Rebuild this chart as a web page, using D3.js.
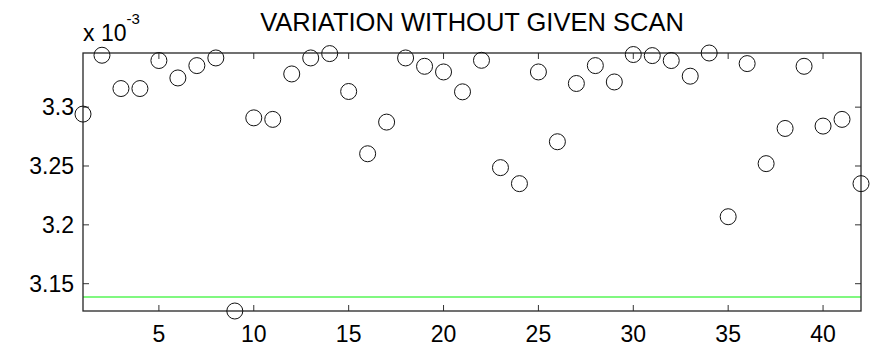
<!DOCTYPE html>
<html>
<head>
<meta charset="utf-8">
<script src="https://cdn.jsdelivr.net/npm/d3@7"></script>
<style>
  body { margin: 0; background: #fff; }
  text { font-family: "Liberation Sans", Arial, sans-serif; fill: #000; }
</style>
</head>
<body>
<script>
// scan index and value (x 10^-3)
var scans = d3.range(1, 43);
var values = [
  3.2941, 3.3441, 3.3158, 3.3158, 3.3396, 3.3248, 3.3353, 3.3418, 3.1268, 3.2909,
  3.2896, 3.3282, 3.3418, 3.3455, 3.3133, 3.2604, 3.2873, 3.3418, 3.3347, 3.3299,
  3.3130, 3.3398, 3.2486, 3.2350, 3.3299, 3.2706, 3.3201, 3.3353, 3.3214, 3.3447,
  3.3438, 3.3396, 3.3263, 3.3460, 3.2069, 3.3370, 3.2520, 3.2819, 3.3347, 3.2839,
  3.2896, 3.2350
];
var threshold = 3.1386;
var xTicks = [5, 10, 15, 20, 25, 30, 35, 40];
var yTicks = [3.15, 3.2, 3.25, 3.3];
var chartTitle = "VARIATION WITHOUT GIVEN SCAN";

window.onload = function(){

    var w = 875, h = 353;
    var pl = 83, pr = 861, pt = 53, pb = 311;

    var svg = d3.select("body").append("svg")
        .attr("width", w)
        .attr("height", h);

    var x = d3.scaleLinear()
        .domain([1, 42])
        .range([pl, pr]);

    var y = d3.scaleLinear()
        .domain(d3.extent(values))
        .range([pb, pt]);

    //threshold line
    svg.append("line")
        .attr("x1", pl).attr("x2", pr)
        .attr("y1", y(threshold)).attr("y2", y(threshold))
        .style("stroke", "#80f880")
        .style("stroke-width", 2);

    //ticks, inward on all four sides
    var tl = 6;
    var ticks = svg.append("g").style("stroke", "#333").style("stroke-width", 1);
    xTicks.forEach(function(t){
        ticks.append("line").attr("x1", x(t)).attr("x2", x(t)).attr("y1", pb).attr("y2", pb - tl);
        ticks.append("line").attr("x1", x(t)).attr("x2", x(t)).attr("y1", pt).attr("y2", pt + tl);
    });
    yTicks.forEach(function(t){
        ticks.append("line").attr("x1", pl).attr("x2", pl + tl).attr("y1", y(t)).attr("y2", y(t));
        ticks.append("line").attr("x1", pr).attr("x2", pr - tl).attr("y1", y(t)).attr("y2", y(t));
    });

    //box
    svg.append("rect")
        .attr("x", pl).attr("y", pt)
        .attr("width", pr - pl).attr("height", pb - pt)
        .style("fill", "none")
        .style("stroke", "#262626")
        .style("stroke-width", 1.3);

    //tick labels
    svg.selectAll(".xlab")
        .data(xTicks)
        .enter().append("text")
        .attr("class", "xlab")
        .attr("x", function(d){ return x(d); })
        .attr("y", 342)
        .attr("text-anchor", "middle")
        .style("font-size", "23px")
        .text(function(d){ return d; });

    svg.selectAll(".ylab")
        .data(yTicks)
        .enter().append("text")
        .attr("class", "ylab")
        .attr("x", 74)
        .attr("y", function(d){ return y(d) + 8; })
        .attr("text-anchor", "end")
        .style("font-size", "23px")
        .text(function(d){ return d3.format("")(d); });

    //exponent label
    var expo = svg.append("text")
        .attr("x", 83)
        .attr("y", 41)
        .style("font-size", "23px");
    expo.append("tspan").text("x 10");
    expo.append("tspan")
        .attr("dy", -17)
        .style("font-size", "15px")
        .text("-3");

    //title
    svg.append("text")
        .attr("x", (pl + pr) / 2)
        .attr("y", 31)
        .attr("text-anchor", "middle")
        .style("font-size", "25.5px")
        .text(chartTitle);

    //markers
    svg.selectAll(".pt")
        .data(values)
        .enter().append("circle")
        .attr("class", "pt")
        .attr("cx", function(d, i){ return x(scans[i]); })
        .attr("cy", function(d){ return y(d); })
        .attr("r", 8)
        .style("fill", "none")
        .style("stroke", "#111")
        .style("stroke-width", 1);
};
</script>
</body>
</html>
